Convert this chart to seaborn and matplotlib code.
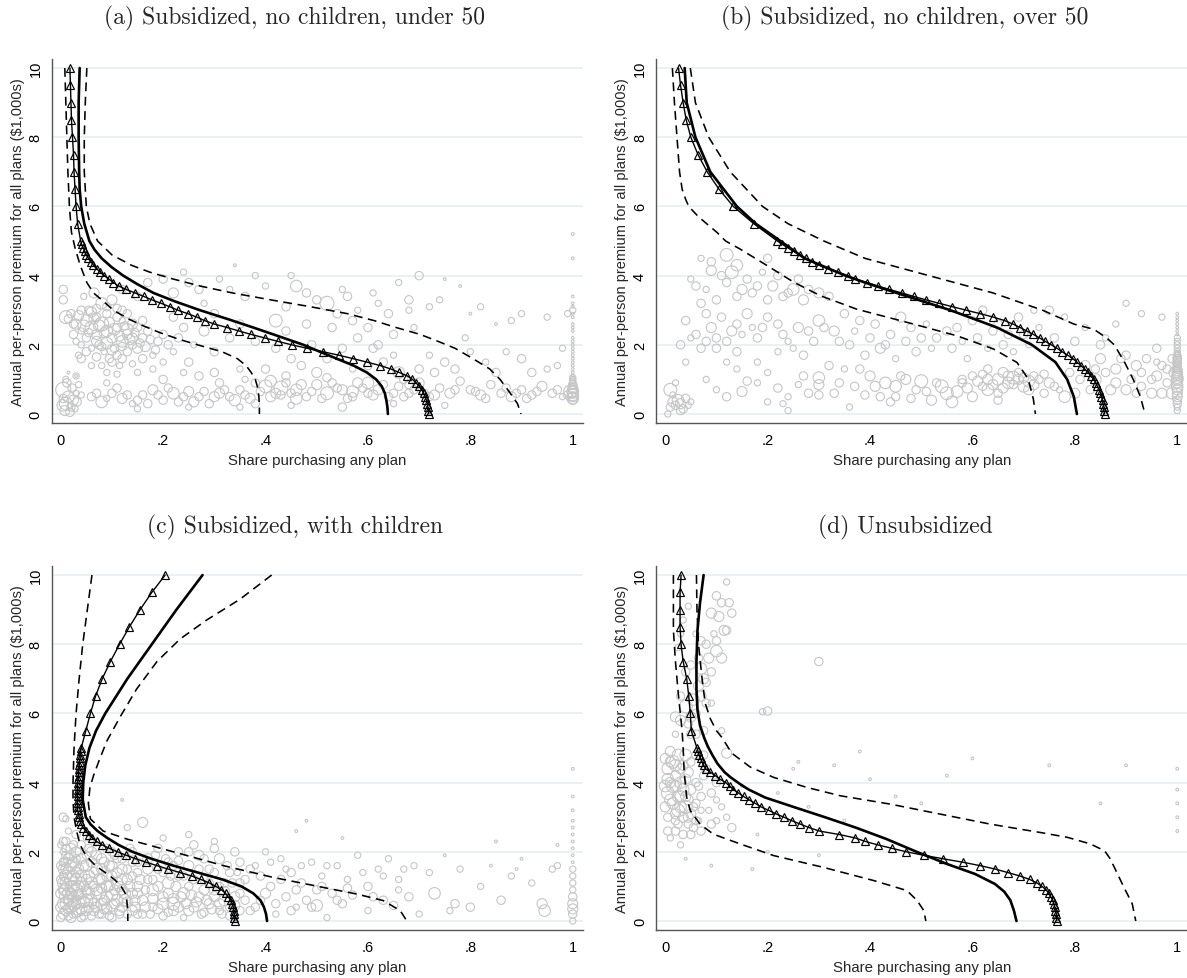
import numpy as np
import pandas as pd
import matplotlib
matplotlib.use("Agg")
import matplotlib.pyplot as plt
import seaborn as sns

sns.set_theme(style="white")
plt.rcParams["font.family"] = ["Liberation Sans", "DejaVu Sans"]

# ---------------- data ----------------
TITLES = ["(a) Subsidized, no children, under 50",
          "(b) Subsidized, no children, over 50",
          "(c) Subsidized, with children",
          "(d) Unsubsidized"]
XTICKS = [0, 0.2, 0.4, 0.6, 0.8, 1.0]
XTICKLABELS = ["0", ".2", ".4", ".6", ".8", "1"]
YTICKS = [0, 2, 4, 6, 8, 10]
XLABEL = "Share purchasing any plan"
YLABEL = "Annual per-person premium for all plans ($1,000s)"

# premium grid at which the triangle-marked curve is evaluated
TRI_Y = [10, 9.5, 9, 8.5, 8, 7.5, 7, 6.5, 6, 5.5,
         5.0, 4.9, 4.8, 4.7, 4.6, 4.5, 4.4, 4.3, 4.2, 4.1,
         4.0, 3.9, 3.8, 3.7, 3.6, 3.5, 3.4, 3.3, 3.2, 3.1,
         3.0, 2.9, 2.8, 2.7, 2.6, 2.5, 2.4, 2.3, 2.2, 2.1,
         2.0, 1.9, 1.8, 1.7, 1.6, 1.5, 1.4, 1.3, 1.2, 1.1,
         1.0, 0.9, 0.8, 0.7, 0.6, 0.5, 0.4, 0.3, 0.2, 0.1, 0.0]

TRI_X_A = [.018, .019, .020, .021, .023, .025, .026, .028, .030, .033,
           .039, .041, .044, .047, .050, .054, .059, .064, .070, .077,
           .085, .094, .103, .113, .128, .145, .162, .178, .196, .213,
           .229, .248, .266, .281, .300, .325, .348, .372, .398, .424,
           .451, .481, .512, .543, .571, .598, .624, .645, .661, .677,
           .687, .694, .700, .705, .709, .712, .714, .716, .717, .718, .719]
TRI_X_B = [.026, .030, .035, .041, .050, .064, .082, .105, .133, .173,
           .219, .229, .240, .251, .264, .275, .286, .301, .317, .337,
           .356, .371, .394, .415, .438, .462, .485, .509, .535, .561,
           .588, .615, .641, .663, .679, .693, .706, .719, .731, .742,
           .754, .765, .775, .786, .796, .804, .812, .819, .826, .831,
           .837, .841, .844, .848, .850, .852, .854, .855, .857, .857, .858]
TRI_X_C = [.204, .178, .155, .134, .115, .097, .081, .068, .058, .049,
           .040, .039, .038, .038, .037, .036, .036, .035, .035, .034,
           .033, .033, .033, .033, .033, .033, .033, .033, .033, .035,
           .036, .038, .040, .044, .049, .055, .062, .070, .081, .095,
           .111, .128, .146, .167, .188, .210, .233, .256, .274, .290,
           .303, .314, .322, .327, .332, .335, .337, .338, .339, .339, .340]
TRI_X_D = [.031, .029, .029, .029, .031, .035, .042, .046, .049, .051,
           .062, .064, .066, .069, .072, .075, .079, .088, .098, .107,
           .118, .126, .133, .143, .153, .164, .176, .187, .202, .216,
           .232, .247, .264, .281, .301, .340, .371, .391, .415, .443,
           .471, .505, .542, .581, .615, .645, .669, .693, .712, .726,
           .736, .744, .749, .753, .757, .759, .761, .762, .764, .764, .765]

# solid (point estimate) curves
SOL_Y_A = [10, 9, 8, 7, 6.5, 6, 5.5, 5.0, 4.75, 4.5, 4.25, 4.0, 3.75, 3.5, 3.25, 3.0,
           2.75, 2.5, 2.2, 2.0, 1.8, 1.6, 1.4, 1.2, 1.0, 0.8, 0.6, 0.4, 0.2, 0]
SOL_X_A = [.037, .035, .035, .036, .037, .040, .046, .056, .066, .080, .099, .122,
           .150, .181, .224, .272, .325, .376, .435, .474, .506, .539, .572, .598,
           .616, .627, .633, .636, .638, .639]
SOL_Y_B = [10, 9, 8, 7, 6, 5.5, 5.0, 4.5, 4.0, 3.8, 3.5, 3.0, 2.5, 2.0, 1.5, 1.0, 0.5, 0]
SOL_X_B = [.038, .042, .059, .088, .140, .177, .225, .272, .352, .390, .452, .557,
           .648, .716, .762, .785, .798, .804]
SOL_Y_C = [10, 9, 8, 7, 6, 5.5, 5.0, 4.5, 4.0, 3.5, 3.0, 2.8, 2.6, 2.4, 2.2, 2.0,
           1.8, 1.6, 1.4, 1.2, 1.0, 0.8, 0.6, 0.4, 0.2, 0]
SOL_X_C = [.277, .226, .178, .130, .087, .069, .056, .048, .044, .043, .049, .058,
           .072, .091, .113, .140, .177, .220, .268, .316, .353, .376, .390, .397, .401, .403]
SOL_Y_D = [10, 9.2, 8.4, 7.5, 6.7, 6.1, 5.65, 5.3, 5.05, 4.8, 4.55, 4.3, 4.15, 3.96,
           3.8, 3.57, 3.3, 3.0, 2.7, 2.37, 2.0, 1.65, 1.36, 1.07, 0.85, 0.6, 0.3, 0]
SOL_X_D = [.075, .068, .063, .061, .061, .063, .068, .076, .083, .092, .102, .116,
           .128, .146, .163, .195, .250, .312, .372, .432, .491, .550, .605, .644,
           .662, .674, .681, .686]

# dashed confidence bands (upper = right, lower = left)
HI_Y_A = [10, 9, 8, 7, 6, 5.5, 5.0, 4.6, 4.3, 4.1, 3.9, 3.7, 3.5, 3.3, 3.1, 2.9,
          2.7, 2.5, 2.3, 2.1, 1.9, 1.6, 1.3, 1.0, 0.6, 0.3, 0]
HI_X_A = [.051, .048, .046, .046, .050, .057, .072, .100, .138, .174, .220, .272,
          .335, .410, .488, .560, .612, .655, .702, .737, .770, .805, .838, .858,
          .878, .892, .899]
LO_Y_A = [10, 9, 8, 7, 6, 5.25, 4.8, 4.3, 3.8, 3.5, 3.3, 3.0, 2.75, 2.55, 2.35, 2.15,
          1.95, 1.8, 1.6, 1.4, 1.2, 1.0, 0.8, 0.5, 0.2, 0]
LO_X_A = [.008, .010, .012, .014, .017, .021, .028, .038, .051, .064, .080, .103,
          .132, .161, .194, .233, .279, .315, .345, .362, .372, .380, .384, .387, .388, .388]
HI_Y_B = [10, 9, 8, 7, 6, 5.5, 5.0, 4.5, 4.0, 3.5, 3.0, 2.6, 2.45, 2.2, 2.0, 1.5,
          1.0, 0.5, 0]
HI_X_B = [.049, .059, .085, .127, .190, .240, .310, .390, .515, .640, .737, .798,
          .837, .862, .877, .897, .914, .928, .937]
LO_Y_B = [10, 9, 8, 7, 6.5, 6.2, 6.0, 5.7, 5.5, 5.25, 5.0, 4.77, 4.29, 3.81, 3.42,
          3.03, 2.65, 2.26, 1.88, 1.49, 1.01, 0.43, 0]
LO_X_B = [.014, .018, .023, .028, .033, .040, .046, .065, .081, .101, .118, .146,
          .199, .251, .303, .374, .472, .570, .641, .687, .709, .719, .723]
HI_Y_C = [10, 9.3, 8.7, 8.15, 7.5, 6.7, 5.9, 5.2, 4.6, 4.2, 3.85, 3.4, 2.95, 2.6,
          2.37, 2.0, 1.6, 1.26, 0.97, 0.78, 0.59, 0.3, 0]
HI_X_C = [.412, .350, .285, .233, .188, .148, .116, .090, .074, .064, .057, .054,
          .058, .083, .129, .220, .318, .415, .513, .578, .630, .663, .676]
LO_Y_C = [10, 9, 8, 7, 6, 5, 4, 3.5, 3, 2.6, 2.2, 2.0, 1.8, 1.6, 1.4, 1.2, 1.0, 0.8,
          0.6, 0.3, 0]
LO_X_C = [.061, .052, .043, .036, .030, .026, .024, .024, .026, .031, .038, .045,
          .055, .068, .087, .105, .118, .126, .129, .131, .131]
HI_Y_D = [10, 9, 8, 7, 6.3, 5.85, 5.5, 5.3, 4.85, 4.45, 4.15, 3.86, 3.62, 3.38, 3.09,
          2.8, 2.56, 2.42, 2.23, 2.03, 1.8, 1.0, 0.5, 0]
HI_X_D = [.061, .062, .065, .072, .078, .088, .100, .111, .130, .166, .212, .277,
          .342, .439, .537, .635, .732, .785, .830, .858, .869, .895, .912, .919]
LO_Y_D = [10, 8.4, 7.5, 6.5, 5.5, 5.0, 4.3, 3.57, 3.19, 2.8, 2.51, 2.23, 1.89, 1.55,
          1.17, 0.88, 0.59, 0.3, 0]
LO_X_D = [.016, .016, .020, .026, .033, .035, .037, .042, .049, .068, .094, .146,
          .212, .309, .407, .472, .492, .505, .509]

# observed markets: (share, premium, weight)
SCAT_A = [
    (0.005, 0.7, 8), (0.01, 0.3, 6), (0.008, 0.1, 4), (0.015, 0.5, 5), (0.02, 0.2, 3),
    (0.012, 0.9, 3), (0.025, 0.4, 4), (0.03, 0.6, 2), (0.005, 0.45, 3), (0.018, 0.05, 3),
    (0.028, 0.15, 2), (0.035, 0.85, 2), (0.01, 1.0, 2), (0.022, 0.75, 3), (0.004, 0.25, 5),
    (0.032, 0.35, 3), (0.04, 0.55, 2), (0.015, 1.2, 1), (0.03, 1.1, 1),
    (0.005, 3.6, 3), (0.005, 3.3, 3), (0.01, 2.8, 6), (0.02, 2.9, 3), (0.03, 2.6, 4),
    (0.04, 3.0, 3), (0.05, 2.7, 5), (0.06, 2.5, 6), (0.07, 2.3, 4), (0.08, 2.6, 7),
    (0.09, 2.4, 5), (0.1, 2.2, 4), (0.11, 2.5, 3), (0.12, 2.1, 5), (0.13, 2.3, 4),
    (0.14, 2.0, 3), (0.15, 1.9, 4), (0.16, 2.2, 3), (0.05, 2.2, 3), (0.06, 1.9, 2),
    (0.07, 2.8, 3), (0.08, 3.2, 5), (0.09, 2.9, 3), (0.1, 3.3, 4), (0.11, 2.8, 3),
    (0.12, 2.7, 2), (0.13, 1.8, 3), (0.075, 2.0, 3), (0.085, 1.8, 2), (0.095, 1.6, 3),
    (0.04, 2.4, 2), (0.03, 2.1, 2), (0.065, 3.5, 4), (0.045, 3.4, 2), (0.12, 3.0, 3),
    (0.14, 2.6, 4), (0.17, 2.4, 3), (0.18, 1.7, 2), (0.19, 2.1, 3), (0.2, 1.5, 2),
    (0.035, 1.7, 2), (0.025, 2.6, 3), (0.055, 3.0, 3), (0.105, 1.9, 3), (0.115, 1.4, 2),
    (0.09, 1.2, 2), (0.04, 1.6, 3), (0.03, 1.1, 2), (0.06, 1.4, 2),
    (0.035, 2.85, 4), (0.045, 2.55, 5), (0.055, 2.35, 3), (0.065, 2.75, 4), (0.075, 2.55, 5),
    (0.085, 2.35, 4), (0.095, 2.65, 4), (0.105, 2.45, 5), (0.115, 2.25, 4), (0.125, 2.55, 3),
    (0.135, 2.15, 4), (0.145, 2.35, 3), (0.155, 2.05, 3), (0.165, 1.95, 4), (0.175, 2.15, 3),
    (0.185, 1.85, 3), (0.07, 2.1, 4), (0.08, 1.95, 3), (0.09, 2.05, 5), (0.1, 1.85, 4),
    (0.11, 1.7, 3), (0.12, 1.95, 3), (0.13, 2.45, 5), (0.14, 2.2, 4), (0.15, 2.5, 3),
    (0.16, 2.7, 3), (0.06, 2.95, 4), (0.07, 3.05, 3), (0.09, 3.1, 3), (0.11, 3.05, 3),
    (0.13, 2.9, 3), (0.2, 2.3, 3), (0.21, 2.0, 3), (0.22, 1.8, 2), (0.23, 2.2, 3),
    (0.24, 2.5, 3), (0.26, 2.0, 2), (0.05, 1.8, 3), (0.04, 2.0, 2), (0.025, 2.3, 3),
    (0.015, 2.75, 3), (0.1, 1.5, 3), (0.12, 1.6, 3), (0.14, 1.45, 2), (0.16, 1.6, 3),
    (0.18, 1.3, 2), (0.08, 1.4, 2), (0.07, 1.65, 3), (0.15, 1.2, 2), (0.11, 1.15, 2),
    (0.06, 0.5, 3), (0.08, 0.35, 5), (0.1, 0.6, 3), (0.12, 0.45, 4), (0.14, 0.3, 2),
    (0.16, 0.55, 3), (0.18, 0.7, 4), (0.2, 0.4, 3), (0.22, 0.6, 5), (0.24, 0.5, 3),
    (0.26, 0.35, 4), (0.28, 0.65, 3), (0.3, 0.5, 4), (0.32, 0.7, 3), (0.34, 0.4, 5),
    (0.36, 0.55, 3), (0.38, 0.3, 3), (0.4, 0.8, 6), (0.42, 0.6, 4), (0.44, 0.9, 3),
    (0.46, 0.7, 5), (0.48, 0.5, 3), (0.5, 0.85, 4), (0.52, 0.6, 6), (0.54, 0.75, 3),
    (0.56, 0.45, 3), (0.58, 0.9, 4), (0.6, 0.6, 3), (0.62, 0.7, 4), (0.64, 0.5, 3),
    (0.66, 0.8, 3), (0.68, 0.6, 3), (0.7, 0.9, 4), (0.72, 0.5, 3), (0.74, 0.75, 3),
    (0.76, 0.6, 4), (0.78, 0.95, 3), (0.8, 0.7, 3), (0.82, 0.55, 4), (0.84, 0.85, 3),
    (0.86, 0.6, 3), (0.88, 0.5, 4), (0.9, 0.7, 3), (0.92, 0.55, 3), (0.94, 0.8, 4),
    (0.96, 0.6, 3), (0.98, 0.5, 2), (0.35, 0.2, 2), (0.45, 0.25, 2), (0.55, 0.2, 3),
    (0.65, 0.3, 2), (0.25, 0.2, 2), (0.15, 0.15, 2), (0.75, 0.25, 2), (0.41, 0.95, 5),
    (0.43, 0.75, 7), (0.57, 0.65, 5), (0.31, 0.9, 3), (0.09, 0.9, 2), (0.2, 1.0, 3),
    (0.07, 0.6, 3), (0.09, 0.45, 2), (0.11, 0.75, 3), (0.13, 0.55, 3), (0.15, 0.4, 3),
    (0.17, 0.3, 3), (0.19, 0.55, 3), (0.21, 0.75, 3), (0.23, 0.35, 3), (0.25, 0.65, 4),
    (0.27, 0.5, 3), (0.29, 0.3, 3), (0.31, 0.6, 4), (0.33, 0.5, 3), (0.35, 0.7, 3),
    (0.37, 0.45, 4), (0.39, 0.65, 3), (0.41, 0.5, 4), (0.43, 0.55, 3), (0.45, 0.6, 3),
    (0.47, 0.85, 4), (0.49, 0.65, 3), (0.51, 0.45, 3), (0.53, 0.9, 3), (0.55, 0.7, 4),
    (0.57, 0.5, 3), (0.59, 0.75, 3), (0.61, 0.55, 4), (0.63, 0.85, 3), (0.65, 0.6, 3),
    (0.67, 0.5, 3), (0.69, 0.7, 3), (0.71, 0.6, 3), (0.73, 0.55, 4), (0.77, 0.7, 3),
    (0.81, 0.65, 3), (0.83, 0.45, 3), (0.87, 0.75, 3), (0.89, 0.6, 3), (0.91, 0.45, 3),
    (0.93, 0.65, 3), (0.97, 0.7, 3), (0.99, 0.55, 3), (0.38, 0.9, 3), (0.44, 1.1, 3),
    (0.52, 1.05, 3), (0.46, 0.45, 5), (0.6, 0.9, 5), (0.68, 0.85, 3), (0.3, 1.2, 3),
    (0.36, 1.0, 2), (0.24, 1.2, 2),
    (0.2, 3.9, 3), (0.22, 3.5, 4), (0.25, 3.8, 3), (0.28, 3.2, 2), (0.3, 2.9, 3),
    (0.33, 3.6, 2), (0.36, 3.4, 3), (0.38, 4.0, 2), (0.4, 3.7, 2), (0.42, 2.7, 6),
    (0.44, 3.1, 3), (0.46, 3.7, 5), (0.48, 2.6, 3), (0.5, 3.3, 3), (0.52, 3.2, 7),
    (0.54, 2.9, 3), (0.56, 3.4, 3), (0.58, 3.0, 2), (0.6, 2.5, 3), (0.62, 3.2, 2),
    (0.64, 2.9, 3), (0.66, 3.8, 2), (0.68, 3.0, 2), (0.7, 4.0, 3), (0.72, 3.1, 2),
    (0.75, 3.9, 1), (0.78, 3.7, 1), (0.8, 2.9, 1), (0.85, 2.6, 1), (0.9, 2.9, 2),
    (0.95, 2.8, 2), (0.25, 1.5, 3), (0.3, 1.8, 3), (0.35, 1.3, 2), (0.38, 2.1, 3),
    (0.45, 1.6, 3), (0.5, 1.2, 4), (0.55, 1.9, 3), (0.6, 1.4, 3), (0.65, 1.7, 2),
    (0.7, 1.3, 3), (0.75, 1.5, 3), (0.8, 1.8, 2), (0.85, 1.2, 3), (0.9, 1.6, 3),
    (0.95, 1.3, 2), (0.28, 2.4, 4), (0.33, 2.2, 3), (0.22, 2.8, 3), (0.27, 1.1, 3),
    (0.62, 2.0, 3), (0.66, 1.2, 5),
    (0.4, 1.3, 3), (0.42, 1.9, 3), (0.47, 1.4, 3), (0.52, 1.6, 3), (0.57, 1.3, 2),
    (0.58, 2.2, 3), (0.63, 1.5, 3), (0.67, 1.0, 3), (0.72, 1.7, 2), (0.73, 1.2, 3),
    (0.77, 1.3, 3), (0.79, 2.2, 2), (0.83, 1.5, 2), (0.87, 1.8, 2), (0.92, 1.2, 3),
    (0.97, 1.4, 2), (0.98, 1.9, 2), (0.35, 2.6, 3), (0.44, 2.4, 3), (0.49, 2.0, 3),
    (0.53, 2.5, 3), (0.57, 2.7, 3), (0.61, 1.9, 3), (0.65, 2.3, 3), (0.69, 2.5, 2),
    (0.12, 3.6, 3), (0.15, 3.4, 3), (0.17, 3.8, 3), (0.24, 4.1, 2), (0.27, 3.6, 3),
    (0.31, 3.9, 2), (0.34, 4.3, 1), (0.45, 4.0, 2), (0.48, 3.5, 3), (0.55, 3.6, 2),
    (0.61, 3.5, 2), (0.68, 3.3, 3), (0.74, 3.3, 2), (0.82, 3.1, 2), (0.88, 2.7, 2),
    (1.0, 0.4, 3), (1.0, 0.5, 4), (1.0, 0.55, 5), (1.0, 0.6, 4), (1.0, 0.7, 3),
    (1.0, 0.8, 2), (1.0, 0.9, 2), (1.0, 1.0, 2), (1.0, 1.1, 1), (1.0, 1.2, 1),
    (1.0, 1.3, 1), (1.0, 1.4, 1), (1.0, 1.5, 1), (1.0, 1.6, 1), (1.0, 1.8, 1),
    (1.0, 2.0, 1), (1.0, 2.2, 1), (1.0, 2.4, 1), (1.0, 2.6, 1), (1.0, 2.8, 1),
    (1.0, 3.0, 2), (1.0, 3.2, 1), (1.0, 3.4, 1), (1.0, 4.5, 1), (1.0, 5.2, 1),
    (0.995, 0.65, 6), (0.99, 2.9, 2),
    (1.0, 0.45, 5), (1.0, 0.65, 5), (1.0, 0.75, 4), (1.0, 0.85, 3), (1.0, 0.95, 2),
    (1.0, 1.05, 2), (1.0, 1.7, 1), (1.0, 1.9, 1), (1.0, 2.1, 1), (1.0, 2.5, 1),
    (1.0, 2.9, 1), (1.0, 3.1, 1),
]
SCAT_B = [
    (0.005, 0.0, 2), (0.01, 0.2, 3), (0.01, 0.7, 6), (0.015, 0.35, 4), (0.02, 0.25, 3),
    (0.025, 0.4, 5), (0.03, 0.3, 4), (0.035, 0.15, 3), (0.04, 0.45, 3), (0.02, 0.9, 2),
    (0.045, 0.25, 2), (0.05, 0.35, 2), (0.03, 0.1, 3), (0.015, 0.55, 2),
    (0.07, 4.5, 2), (0.09, 4.15, 4), (0.09, 4.4, 3), (0.12, 4.6, 6), (0.13, 4.1, 6),
    (0.14, 4.3, 5), (0.11, 4.0, 3), (0.15, 3.6, 4), (0.17, 3.5, 3), (0.16, 3.9, 3),
    (0.19, 4.1, 2), (0.2, 4.5, 3), (0.21, 3.7, 4), (0.23, 3.4, 3), (0.25, 3.6, 5),
    (0.27, 3.3, 4), (0.3, 3.5, 4), (0.32, 3.4, 3), (0.06, 3.7, 3), (0.05, 3.9, 2),
    (0.04, 2.7, 3), (0.05, 2.2, 2), (0.07, 3.2, 3), (0.08, 2.9, 3), (0.09, 2.5, 4),
    (0.1, 2.2, 3), (0.11, 2.8, 3), (0.13, 2.4, 4), (0.15, 2.3, 2), (0.16, 2.9, 4),
    (0.17, 2.5, 2), (0.2, 2.8, 3), (0.22, 2.6, 3), (0.24, 2.1, 2), (0.26, 2.5, 4),
    (0.28, 2.4, 3), (0.3, 2.7, 5), (0.31, 2.5, 3), (0.33, 2.4, 4), (0.1, 1.9, 3),
    (0.07, 1.9, 3), (0.03, 2.0, 3), (0.04, 1.5, 2), (0.12, 1.5, 2), (0.14, 1.8, 3),
    (0.18, 1.5, 2), (0.22, 1.8, 2), (0.27, 1.7, 3), (0.35, 2.9, 3), (0.38, 2.7, 3),
    (0.4, 2.2, 3), (0.42, 1.9, 4), (0.44, 2.3, 3), (0.46, 2.8, 4), (0.48, 2.5, 3),
    (0.5, 2.2, 3), (0.52, 1.9, 2), (0.55, 2.4, 3), (0.58, 2.1, 2), (0.6, 2.7, 3),
    (0.62, 3.0, 3), (0.64, 2.4, 3), (0.66, 2.0, 3), (0.68, 1.8, 2), (0.7, 2.3, 3),
    (0.72, 3.0, 2), (0.75, 3.0, 3), (0.78, 2.8, 2),
    (0.36, 2.0, 3), (0.37, 2.4, 2), (0.39, 1.7, 3), (0.41, 2.6, 3), (0.43, 2.0, 3),
    (0.45, 1.6, 2), (0.47, 2.1, 3), (0.49, 1.8, 3), (0.51, 2.6, 2), (0.53, 2.2, 3),
    (0.56, 1.9, 3), (0.57, 2.5, 3), (0.59, 1.6, 2), (0.61, 2.2, 3), (0.63, 1.9, 2),
    (0.65, 2.6, 3), (0.67, 2.3, 3), (0.69, 2.8, 3), (0.71, 2.0, 2), (0.73, 2.5, 2),
    (0.76, 2.2, 3), (0.8, 2.1, 3), (0.82, 2.5, 2), (0.85, 2.0, 3), (0.88, 2.6, 2),
    (0.9, 3.2, 2), (0.93, 2.9, 2), (0.97, 2.8, 2),
    (0.08, 3.6, 2), (0.1, 3.3, 3), (0.12, 3.8, 3), (0.14, 3.4, 3), (0.18, 3.7, 3),
    (0.2, 3.3, 3), (0.22, 4.0, 3), (0.24, 3.5, 3), (0.26, 3.9, 3), (0.28, 3.6, 3),
    (0.06, 2.3, 3), (0.08, 2.1, 3), (0.12, 2.1, 3), (0.14, 2.6, 3), (0.18, 2.2, 3),
    (0.19, 2.5, 3), (0.23, 2.3, 3), (0.25, 1.9, 2), (0.29, 2.1, 3), (0.34, 2.1, 3),
    (0.08, 1.0, 2), (0.12, 0.5, 3), (0.15, 0.65, 4), (0.18, 0.9, 2), (0.2, 0.35, 2),
    (0.22, 0.75, 3), (0.24, 0.5, 2), (0.27, 1.1, 3), (0.3, 0.85, 4), (0.3, 0.55, 3),
    (0.3, 1.05, 5), (0.33, 0.6, 3), (0.35, 1.3, 2), (0.37, 0.8, 3), (0.4, 1.1, 4),
    (0.42, 0.5, 3), (0.43, 0.9, 5), (0.45, 0.8, 5), (0.47, 1.0, 4), (0.49, 0.7, 3),
    (0.5, 0.95, 6), (0.52, 0.4, 4), (0.54, 0.8, 6), (0.55, 0.6, 6), (0.56, 0.35, 5),
    (0.57, 0.65, 5), (0.58, 0.9, 3), (0.6, 1.1, 3), (0.62, 0.8, 3), (0.63, 1.0, 4),
    (0.65, 1.0, 5), (0.66, 1.2, 4), (0.67, 0.9, 5), (0.68, 1.05, 6), (0.69, 1.0, 4),
    (0.7, 0.8, 5), (0.71, 0.7, 4), (0.72, 1.1, 3), (0.74, 0.6, 3), (0.76, 0.8, 3),
    (0.78, 0.5, 5), (0.8, 0.6, 4), (0.81, 1.0, 3), (0.82, 1.4, 4), (0.84, 1.0, 5),
    (0.85, 1.6, 4), (0.86, 1.2, 3), (0.88, 0.9, 4), (0.9, 0.7, 4), (0.92, 0.6, 3),
    (0.93, 1.2, 3), (0.95, 1.0, 3), (0.96, 1.5, 2), (0.97, 0.6, 4), (0.98, 1.3, 3),
    (0.9, 1.7, 3), (0.86, 2.2, 2), (0.65, 0.4, 3), (0.45, 0.5, 3), (0.36, 0.2, 2),
    (0.24, 0.1, 2),
    (0.58, 1.0, 3), (0.59, 0.75, 4), (0.6, 0.5, 4), (0.61, 0.95, 4), (0.62, 1.15, 3),
    (0.63, 0.7, 5), (0.64, 0.85, 4), (0.66, 0.75, 4), (0.67, 1.1, 4), (0.68, 0.85, 3),
    (0.69, 1.2, 3), (0.7, 1.05, 4), (0.71, 0.95, 5), (0.72, 0.85, 4), (0.73, 1.0, 3),
    (0.74, 1.15, 3), (0.75, 0.9, 4), (0.65, 0.6, 3), (0.63, 1.3, 3), (0.53, 0.9, 3),
    (0.51, 0.65, 3), (0.48, 0.45, 3), (0.46, 1.1, 3), (0.44, 0.35, 3), (0.41, 0.8, 4),
    (0.39, 0.55, 3), (0.38, 1.3, 3), (0.34, 0.9, 3), (0.32, 1.4, 3), (0.28, 0.6, 3),
    (0.26, 0.85, 2), (0.23, 0.3, 2), (0.2, 1.2, 2), (0.16, 0.95, 3), (0.14, 1.3, 2),
    (0.1, 0.7, 2),
    (0.87, 0.7, 4), (0.88, 1.3, 4), (0.89, 1.6, 3), (0.91, 1.0, 3), (0.92, 1.4, 4),
    (0.93, 0.8, 3), (0.94, 1.6, 3), (0.95, 0.6, 4), (0.96, 1.1, 4), (0.97, 1.4, 3),
    (0.98, 0.9, 3), (0.96, 1.9, 3), (0.99, 1.6, 3), (0.84, 1.3, 3), (0.83, 0.7, 3),
    (0.79, 1.2, 3), (0.77, 0.7, 2),
    (1.0, 0.1, 2), (1.0, 0.3, 3), (1.0, 0.5, 4), (1.0, 0.7, 4), (1.0, 0.9, 4),
    (1.0, 1.0, 5), (1.0, 1.1, 4), (1.0, 1.2, 4), (1.0, 1.3, 3), (1.0, 1.4, 3),
    (1.0, 1.5, 3), (1.0, 1.6, 3), (1.0, 1.7, 2), (1.0, 1.8, 2), (1.0, 1.9, 2),
    (1.0, 2.0, 2), (1.0, 2.2, 2), (1.0, 2.4, 1), (1.0, 2.6, 1), (1.0, 2.8, 1),
    (0.99, 0.6, 5), (0.995, 1.2, 5),
    (1.0, 0.2, 2), (1.0, 0.4, 3), (1.0, 0.6, 4), (1.0, 0.8, 5), (1.0, 1.05, 5),
    (1.0, 1.15, 4), (1.0, 1.25, 4), (1.0, 1.35, 3), (1.0, 1.45, 3), (1.0, 1.55, 3),
    (1.0, 1.65, 3), (1.0, 1.75, 2), (1.0, 2.1, 2), (1.0, 2.3, 1), (1.0, 2.5, 1),
    (1.0, 2.7, 1), (1.0, 2.9, 1),
]
SCAT_C = [
    (0.0, 0.1, 3), (0.005, 0.5, 5), (0.005, 0.9, 4), (0.005, 1.3, 3), (0.005, 1.7, 3),
    (0.005, 2.0, 2), (0.01, 0.3, 4), (0.01, 0.7, 6), (0.01, 1.1, 5), (0.01, 1.5, 4),
    (0.01, 1.9, 3), (0.01, 2.3, 3), (0.015, 0.15, 3), (0.015, 0.6, 4), (0.02, 0.4, 5),
    (0.02, 0.8, 4), (0.02, 1.2, 6), (0.02, 1.6, 5), (0.02, 2.1, 4), (0.025, 0.2, 3),
    (0.025, 1.0, 5), (0.03, 0.5, 4), (0.03, 1.4, 4), (0.03, 1.8, 3), (0.035, 0.3, 5),
    (0.035, 0.75, 4), (0.04, 0.1, 3), (0.04, 1.1, 5), (0.04, 2.2, 3), (0.045, 0.55, 5),
    (0.045, 1.6, 4), (0.05, 0.9, 4), (0.05, 0.3, 4), (0.05, 1.9, 3), (0.055, 1.3, 5),
    (0.06, 0.6, 5), (0.06, 0.15, 3), (0.06, 2.0, 4), (0.065, 1.0, 4), (0.07, 0.4, 4),
    (0.07, 1.5, 5), (0.075, 0.8, 6), (0.08, 0.2, 3), (0.08, 1.2, 4), (0.08, 1.8, 4),
    (0.085, 0.6, 4), (0.09, 1.0, 5), (0.09, 0.35, 4), (0.095, 1.6, 4), (0.1, 0.75, 5),
    (0.1, 0.1, 3), (0.1, 1.3, 4), (0.1, 2.0, 3), (0.105, 0.5, 4), (0.11, 1.1, 5),
    (0.11, 1.8, 3), (0.115, 0.3, 4), (0.12, 0.9, 4), (0.12, 1.5, 4), (0.125, 0.6, 5),
    (0.13, 0.2, 3), (0.13, 1.2, 4), (0.135, 2.1, 3), (0.14, 0.8, 4), (0.14, 1.7, 3),
    (0.145, 0.4, 4), (0.15, 1.0, 4), (0.15, 1.4, 3), (0.005, 3.0, 3), (0.01, 2.95, 2),
    (0.015, 2.6, 2), (0.03, 2.5, 3), (0.05, 2.4, 2), (0.07, 2.3, 2),
    (0.0, 0.4, 4), (0.0, 0.8, 4), (0.0, 1.2, 3), (0.0, 1.6, 3), (0.0, 2.2, 2),
    (0.005, 0.2, 4), (0.005, 1.1, 5), (0.005, 1.5, 4), (0.005, 2.3, 3), (0.01, 0.5, 5),
    (0.01, 0.9, 6), (0.01, 1.3, 5), (0.01, 1.7, 4), (0.01, 2.1, 3), (0.015, 0.35, 4),
    (0.015, 0.8, 5), (0.015, 1.4, 5), (0.015, 1.8, 4), (0.02, 0.1, 4), (0.02, 0.6, 6),
    (0.02, 1.0, 5), (0.02, 1.9, 4), (0.025, 0.45, 5), (0.025, 0.7, 4), (0.025, 1.3, 5),
    (0.025, 1.7, 4), (0.025, 2.2, 3), (0.03, 0.25, 4), (0.03, 0.9, 6), (0.03, 1.2, 5),
    (0.03, 2.0, 4), (0.035, 0.55, 5), (0.035, 1.0, 5), (0.035, 1.5, 4), (0.04, 0.35, 5),
    (0.04, 0.8, 4), (0.04, 1.3, 5), (0.04, 1.8, 4), (0.045, 0.15, 3), (0.045, 1.0, 4),
    (0.05, 0.6, 6), (0.05, 1.2, 4), (0.05, 1.6, 5), (0.055, 0.4, 4), (0.055, 0.8, 5),
    (0.055, 2.1, 3), (0.06, 1.1, 5), (0.06, 1.7, 4), (0.065, 0.3, 4), (0.065, 0.5, 4),
    (0.065, 1.4, 4), (0.07, 0.9, 5), (0.07, 1.9, 4), (0.075, 0.2, 3), (0.075, 1.2, 5),
    (0.08, 0.5, 5), (0.08, 0.95, 4), (0.08, 1.5, 4), (0.085, 0.35, 4), (0.085, 1.7, 4),
    (0.09, 0.7, 5), (0.09, 1.3, 4), (0.09, 2.1, 3), (0.095, 0.15, 3), (0.095, 1.0, 4),
    (0.1, 0.45, 5), (0.1, 1.6, 4), (0.105, 0.9, 4), (0.105, 1.9, 3), (0.11, 0.6, 5),
    (0.11, 1.4, 4), (0.115, 0.2, 3), (0.115, 1.0, 4), (0.12, 0.4, 4), (0.12, 1.2, 4),
    (0.12, 1.8, 3), (0.125, 0.8, 5), (0.13, 0.55, 4), (0.13, 1.5, 3), (0.135, 1.0, 4),
    (0.14, 0.3, 4), (0.14, 1.3, 3), (0.14, 2.0, 3), (0.145, 0.6, 4), (0.15, 0.2, 3),
    (0.15, 0.8, 4), (0.15, 1.7, 3),
    (0.16, 0.2, 3), (0.16, 0.6, 4), (0.17, 1.2, 3), (0.17, 1.8, 4), (0.18, 0.4, 3),
    (0.18, 0.9, 5), (0.19, 1.5, 3), (0.19, 2.1, 3), (0.2, 0.15, 3), (0.2, 0.7, 4),
    (0.21, 1.1, 5), (0.21, 1.7, 3), (0.22, 0.3, 4), (0.22, 0.5, 6), (0.23, 1.3, 3),
    (0.23, 2.0, 3), (0.24, 0.8, 5), (0.24, 0.1, 2), (0.25, 1.6, 4), (0.25, 1.0, 3),
    (0.26, 0.4, 4), (0.26, 2.2, 3), (0.27, 0.7, 4), (0.27, 1.9, 4), (0.28, 1.2, 3),
    (0.28, 0.25, 3), (0.29, 0.5, 4), (0.29, 1.5, 3), (0.3, 0.9, 4), (0.3, 2.1, 3),
    (0.31, 0.3, 3), (0.31, 1.8, 4), (0.32, 0.6, 5), (0.32, 1.1, 3), (0.33, 1.4, 3),
    (0.33, 0.15, 3), (0.34, 0.45, 4), (0.34, 2.0, 3), (0.35, 0.8, 3), (0.35, 1.7, 3),
    (0.16, 2.85, 4), (0.13, 2.7, 2), (0.2, 2.4, 2), (0.25, 2.5, 2), (0.12, 3.5, 1),
    (0.3, 2.3, 2),
    (0.155, 1.2, 4), (0.165, 0.4, 4), (0.165, 0.9, 3), (0.17, 1.5, 4), (0.175, 0.2, 3),
    (0.18, 0.65, 4), (0.18, 1.2, 3), (0.185, 1.9, 3), (0.19, 0.35, 4), (0.19, 1.0, 4),
    (0.2, 0.5, 5), (0.2, 1.4, 3), (0.205, 1.8, 3), (0.21, 0.25, 3), (0.21, 0.8, 4),
    (0.215, 1.3, 3), (0.22, 0.65, 4), (0.22, 1.6, 3), (0.225, 1.0, 4), (0.23, 0.4, 4),
    (0.23, 1.75, 3), (0.235, 0.7, 4), (0.24, 1.3, 3), (0.245, 0.5, 4), (0.25, 0.3, 4),
    (0.25, 2.0, 3), (0.255, 0.75, 4), (0.26, 1.2, 3), (0.265, 0.55, 4), (0.27, 1.5, 3),
    (0.275, 0.2, 3), (0.28, 0.9, 4), (0.28, 1.8, 3), (0.285, 0.6, 4), (0.29, 1.1, 3),
    (0.295, 0.35, 4), (0.3, 0.7, 4), (0.3, 1.4, 3), (0.31, 0.5, 4), (0.31, 1.0, 3),
    (0.315, 0.2, 3), (0.32, 0.85, 4), (0.325, 1.6, 3), (0.33, 0.4, 3), (0.335, 1.1, 3),
    (0.34, 0.7, 4), (0.345, 1.4, 2), (0.35, 0.3, 3), (0.35, 1.1, 3),
    (0.36, 1.2, 3), (0.37, 0.3, 3), (0.38, 1.6, 2), (0.39, 0.6, 3), (0.4, 2.0, 2),
    (0.41, 1.0, 3), (0.42, 0.2, 2), (0.43, 1.8, 2), (0.44, 0.7, 3), (0.45, 1.4, 3),
    (0.46, 0.4, 2), (0.47, 1.1, 3), (0.48, 0.6, 3), (0.49, 1.7, 2), (0.5, 0.9, 3),
    (0.5, 0.45, 5), (0.51, 1.3, 2), (0.52, 0.1, 2), (0.53, 0.8, 3), (0.54, 1.6, 2),
    (0.55, 0.5, 3), (0.56, 1.2, 2), (0.57, 0.75, 3), (0.58, 1.9, 2), (0.6, 0.3, 2),
    (0.6, 1.0, 3), (0.62, 1.5, 2), (0.63, 0.6, 3), (0.64, 1.8, 2), (0.65, 0.45, 3),
    (0.66, 1.2, 2), (0.68, 0.7, 3), (0.69, 1.6, 2), (0.7, 0.2, 2), (0.48, 2.9, 1),
    (0.55, 2.4, 1), (0.46, 2.6, 1),
    (0.36, 0.6, 3), (0.37, 1.5, 3), (0.38, 0.4, 3), (0.39, 1.3, 3), (0.4, 0.8, 4),
    (0.41, 1.7, 2), (0.42, 0.5, 3), (0.43, 1.2, 3), (0.44, 1.5, 2), (0.45, 0.3, 3),
    (0.46, 0.9, 3), (0.47, 1.6, 2), (0.49, 0.4, 3), (0.51, 1.0, 3), (0.52, 1.6, 2),
    (0.54, 0.6, 3), (0.56, 0.95, 3), (0.59, 1.4, 2), (0.61, 0.7, 3), (0.63, 1.3, 2),
    (0.66, 0.9, 2), (0.67, 1.5, 2),
    (0.72, 1.4, 2), (0.73, 0.8, 5), (0.75, 1.9, 1), (0.76, 0.3, 2), (0.77, 0.5, 3),
    (0.78, 1.5, 2), (0.8, 0.4, 3), (0.82, 1.0, 2), (0.84, 1.6, 1), (0.85, 2.3, 1),
    (0.86, 0.6, 3), (0.88, 1.3, 2), (0.89, 1.5, 1), (0.9, 1.8, 1), (0.92, 1.1, 2),
    (0.94, 0.5, 4), (0.945, 0.3, 5), (0.96, 1.5, 2), (0.97, 1.6, 2), (0.97, 2.2, 1),
    (1.0, 0.0, 2), (1.0, 0.2, 3), (1.0, 0.35, 4), (1.0, 0.5, 4), (1.0, 0.7, 3),
    (1.0, 0.9, 2), (1.0, 1.1, 2), (1.0, 1.3, 2), (1.0, 1.5, 2), (1.0, 1.7, 1),
    (1.0, 1.9, 1), (1.0, 2.1, 1), (1.0, 2.3, 1), (1.0, 2.5, 1), (1.0, 2.7, 1),
    (1.0, 2.9, 1), (1.0, 3.2, 1), (1.0, 3.6, 1), (1.0, 4.4, 1),
]
SCAT_D = [
    (0.0, 4.7, 4), (0.005, 4.4, 5), (0.005, 3.7, 6), (0.01, 4.0, 4), (0.01, 4.9, 4),
    (0.015, 3.4, 5), (0.015, 4.6, 6), (0.02, 3.9, 5), (0.02, 4.2, 4), (0.025, 3.2, 6),
    (0.025, 4.8, 5), (0.03, 3.6, 5), (0.03, 4.4, 4), (0.035, 3.0, 4), (0.035, 3.8, 5),
    (0.04, 3.3, 6), (0.04, 4.1, 4), (0.045, 2.8, 3), (0.045, 3.5, 4), (0.05, 3.1, 4),
    (0.05, 4.6, 3), (0.055, 2.7, 3), (0.06, 3.4, 3), (0.06, 4.0, 3), (0.065, 2.9, 2),
    (0.07, 3.6, 3), (0.08, 4.4, 3), (0.085, 3.2, 2), (0.09, 2.8, 3), (0.1, 3.5, 2),
    (0.1, 4.0, 3), (0.12, 3.0, 2), (0.13, 2.7, 3), (0.02, 2.6, 3), (0.01, 2.4, 2),
    (0.03, 2.2, 2), (0.005, 3.0, 3), (0.02, 2.9, 3), (0.07, 2.6, 3), (0.075, 4.8, 3),
    (0.04, 4.8, 5), (0.06, 4.8, 3),
    (0.005, 4.1, 5), (0.01, 3.5, 5), (0.01, 4.6, 4), (0.015, 3.9, 6), (0.02, 3.1, 4),
    (0.02, 4.5, 5), (0.025, 3.6, 5), (0.025, 2.8, 3), (0.03, 3.3, 5), (0.03, 4.0, 5),
    (0.035, 4.5, 4), (0.04, 3.6, 4), (0.045, 3.0, 4), (0.045, 4.3, 4), (0.05, 3.8, 4),
    (0.055, 3.3, 3), (0.06, 2.9, 3), (0.065, 3.9, 3), (0.07, 3.2, 2), (0.075, 4.2, 3),
    (0.0, 3.9, 5), (0.0, 3.3, 4), (0.005, 2.6, 3), (0.035, 2.5, 3), (0.05, 2.5, 3),
    (0.09, 3.7, 3), (0.11, 3.3, 2), (0.1, 2.9, 2),
    (0.02, 5.9, 4), (0.03, 5.8, 4), (0.04, 6.2, 6), (0.05, 5.9, 4), (0.055, 6.4, 5),
    (0.06, 5.4, 3), (0.065, 6.8, 4), (0.07, 7.3, 5), (0.08, 6.9, 3), (0.085, 7.6, 4),
    (0.09, 7.2, 3), (0.1, 7.8, 5), (0.11, 7.6, 4), (0.1, 8.1, 3), (0.09, 8.9, 4),
    (0.1, 9.4, 3), (0.11, 9.2, 3), (0.12, 9.8, 2), (0.12, 8.4, 3), (0.13, 8.9, 3),
    (0.08, 8.0, 3), (0.05, 7.4, 3), (0.04, 7.2, 3), (0.03, 6.5, 3), (0.025, 7.9, 2),
    (0.035, 8.7, 2), (0.045, 9.1, 2), (0.06, 8.3, 2), (0.07, 8.1, 3), (0.09, 6.3, 2),
    (0.075, 5.5, 3), (0.02, 5.4, 2), (0.03, 8.3, 2),
    (0.05, 5.4, 3), (0.045, 5.7, 3), (0.06, 6.0, 3), (0.07, 6.5, 4), (0.075, 7.0, 4),
    (0.08, 6.3, 3), (0.065, 7.6, 3), (0.095, 8.3, 2), (0.105, 8.8, 4), (0.115, 8.4, 4),
    (0.125, 9.2, 3),
    (0.19, 6.05, 2), (0.2, 6.07, 3), (0.3, 7.5, 3), (0.12, 4.85, 4), (0.11, 5.5, 2),
    (0.15, 3.9, 1), (0.18, 2.5, 1), (0.22, 3.7, 1), (0.25, 4.4, 1), (0.28, 3.3, 1),
    (0.35, 2.9, 1), (0.4, 4.1, 1), (0.45, 3.6, 1), (0.17, 1.5, 1), (0.3, 1.9, 1),
    (0.26, 4.6, 1), (0.2, 2.0, 1), (0.33, 4.5, 1), (0.55, 4.2, 1), (0.6, 4.7, 1),
    (0.75, 4.5, 1), (0.9, 4.5, 1), (0.85, 3.4, 1), (0.38, 4.9, 1), (0.5, 3.4, 1),
    (0.04, 1.8, 1), (0.09, 1.6, 1),
    (1.0, 2.6, 1), (1.0, 3.0, 1), (1.0, 3.4, 1), (1.0, 3.8, 1), (1.0, 4.4, 1),
]

PANELS = [
    dict(title=TITLES[0], scat=SCAT_A, tri=TRI_X_A, sol=(SOL_X_A, SOL_Y_A),
         hi=(HI_X_A, HI_Y_A), lo=(LO_X_A, LO_Y_A)),
    dict(title=TITLES[1], scat=SCAT_B, tri=TRI_X_B, sol=(SOL_X_B, SOL_Y_B),
         hi=(HI_X_B, HI_Y_B), lo=(LO_X_B, LO_Y_B)),
    dict(title=TITLES[2], scat=SCAT_C, tri=TRI_X_C, sol=(SOL_X_C, SOL_Y_C),
         hi=(HI_X_C, HI_Y_C), lo=(LO_X_C, LO_Y_C)),
    dict(title=TITLES[3], scat=SCAT_D, tri=TRI_X_D, sol=(SOL_X_D, SOL_Y_D),
         hi=(HI_X_D, HI_Y_D), lo=(LO_X_D, LO_Y_D)),
]

# ---------------- layout ----------------
FIG_W, FIG_H = 1187, 979
fig = plt.figure(figsize=(FIG_W / 100, FIG_H / 100), dpi=100)
AX_W = 531.5 / FIG_W
AX_H = 363.6 / FIG_H
LEFTS = [51.5 / FIG_W, 656 / FIG_W]
BOTTOMS = [(FIG_H - 424) / FIG_H, (FIG_H - 931) / FIG_H]
TITLE_X = [295 / FIG_W, 905 / FIG_W]
TITLE_Y = [1 - 18 / FIG_H, 1 - 527 / FIG_H]

GREY = "#c6c6c6"
AXCOL = "#555555"
GRIDCOL = "#e6eef1"
DASH = (0, (5.5, 3.5))

for i, p in enumerate(PANELS):
    r, c = divmod(i, 2)
    ax = fig.add_axes([LEFTS[c], BOTTOMS[r], AX_W, AX_H])
    df = pd.DataFrame(p["scat"], columns=["share", "prem", "w"])
    sns.scatterplot(data=df, x="share", y="prem", size="w", sizes=(4, 150),
                    size_norm=(1, 10), legend=False, ax=ax, color=GREY,
                    facecolor="none", edgecolor=GREY, linewidth=0.8, zorder=2)
    hx, hy = p["hi"]
    lx, ly = p["lo"]
    sx, sy = p["sol"]
    for xx, yy in [(hx, hy), (lx, ly)]:
        sns.lineplot(x=xx, y=yy, sort=False, estimator=None, ax=ax,
                     color="black", linewidth=1.15, linestyle=DASH, zorder=3)
    sns.lineplot(x=sx, y=sy, sort=False, estimator=None, ax=ax,
                 color="black", linewidth=1.9, zorder=4)
    sns.lineplot(x=p["tri"], y=TRI_Y, sort=False, estimator=None, ax=ax,
                 color="black", linewidth=1.0, marker="^", markersize=6.3,
                 markerfacecolor="none", markeredgecolor="black",
                 markeredgewidth=0.85, zorder=5)

    ax.set_xlim(-0.018, 1.02)
    ax.set_ylim(-0.26, 10.25)
    ax.set_xticks(XTICKS)
    ax.set_xticklabels(XTICKLABELS)
    ax.set_yticks(YTICKS)
    ax.set_yticklabels([str(t) for t in YTICKS], rotation=90, va="center")
    ax.yaxis.grid(True, color=GRIDCOL, linewidth=1.2)
    ax.xaxis.grid(False)
    ax.set_axisbelow(True)
    for s in ["top", "right"]:
        ax.spines[s].set_visible(False)
    for s in ["left", "bottom"]:
        ax.spines[s].set_color(AXCOL)
        ax.spines[s].set_linewidth(1.0)
    ax.tick_params(axis="both", direction="out", length=4, width=0.9,
                   color=AXCOL, labelsize=10.5, labelcolor="black", pad=2.5)
    ax.tick_params(axis="x", pad=3)
    ax.set_xlabel(XLABEL, fontsize=10.8)
    ax.set_ylabel(YLABEL, fontsize=10.5)
    ax.xaxis.set_label_coords(0.5, -0.082)
    ax.yaxis.set_label_coords(-0.050, 0.5)

    fig.text(TITLE_X[c], TITLE_Y[r], p["title"], ha="center", va="center",
             fontsize=17, fontfamily="cmr10")

fig.savefig("out.png", dpi=100)
